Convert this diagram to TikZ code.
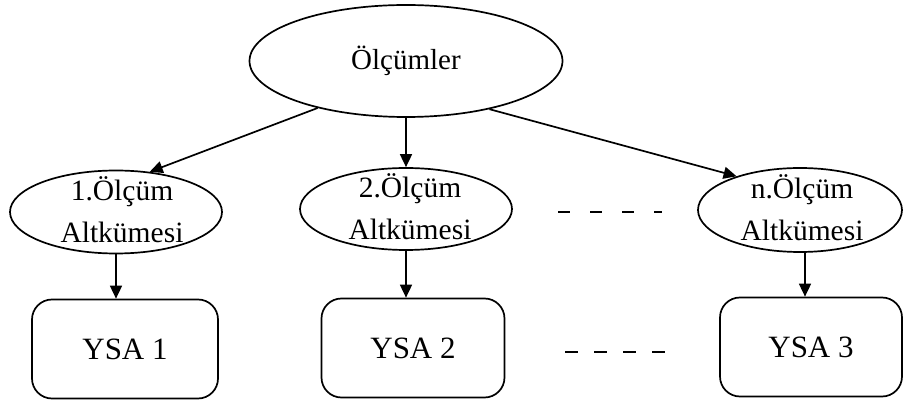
\documentclass[tikz,border=0pt]{standalone}
\usepackage{fontspec}
\setmainfont{Liberation Serif}
\usetikzlibrary{shapes.geometric,arrows.meta,calc}
\begin{document}
\begin{tikzpicture}[x=1pt,y=-1pt,
  line width=1.7pt,
  oval/.style={draw,ellipse,inner sep=0pt},
  ovaltext/.style={font=\fontsize{29.5}{42}\selectfont,align=center,inner sep=0pt},
  ysabox/.style={draw,rounded corners=20pt,minimum height=99pt,
    font=\fontsize{31}{36}\selectfont},
  link/.style={-{Triangle[length=13pt,width=12pt]}},
  gapline/.style={line width=1.8pt}]
\useasboundingbox (0,0) rectangle (903,403);

% top level
\node[oval,minimum width=313pt,minimum height=112pt,
  font=\fontsize{29}{34}\selectfont] (top) at (406,61) {Ölçümler};

% measurement subsets
\node[oval,minimum width=212pt,minimum height=83pt] (e1) at (116,212) {};
\node[oval,minimum width=212pt,minimum height=82pt] (e2) at (406,209) {};
\node[oval,minimum width=204pt,minimum height=84pt] (e3) at (800,210) {};
\node[ovaltext] (e1t) at (122,210) {1.Ölçüm\\Altkümesi};
\node[ovaltext] (e2t) at (410,207) {2.Ölçüm\\Altkümesi};
\node[ovaltext] (e3t) at (802,208) {n.Ölçüm\\Altkümesi};

% networks
\node[ysabox,minimum width=186pt] (b1) at (125,349) {YSA 1};
\node[ysabox,minimum width=183pt] (b2) at (413,348) {YSA 2};
\node[ysabox,minimum width=182pt] (b3) at (811,347) {YSA 3};

% connectors
\coordinate (e3s) at ($(e3.south)+(5,0)$);
\draw[link] (top.208) -- (e1.50);
\draw[link] (top.south) -- (e2.north);
\draw[link] (top.-30) -- (e3.152);
\draw[link] (e1.south) -- (e1.south |- b1.north);
\draw[link] (e2.south) -- (e2.south |- b2.north);
\draw[link] (e3s) -- (e3s |- b3.north);

% ellipsis between columns
\coordinate (d1a) at (558,212);
\coordinate (d1b) at (662,212);
\coordinate (d2a) at (565,352);
\coordinate (d2b) at (667,352);
\draw[gapline,dash pattern=on 12pt off 20pt] (d1a) -- (d1b);
\draw[gapline,dash pattern=on 13pt off 16pt] (d2a) -- (d2b);
\end{tikzpicture}
\end{document}
